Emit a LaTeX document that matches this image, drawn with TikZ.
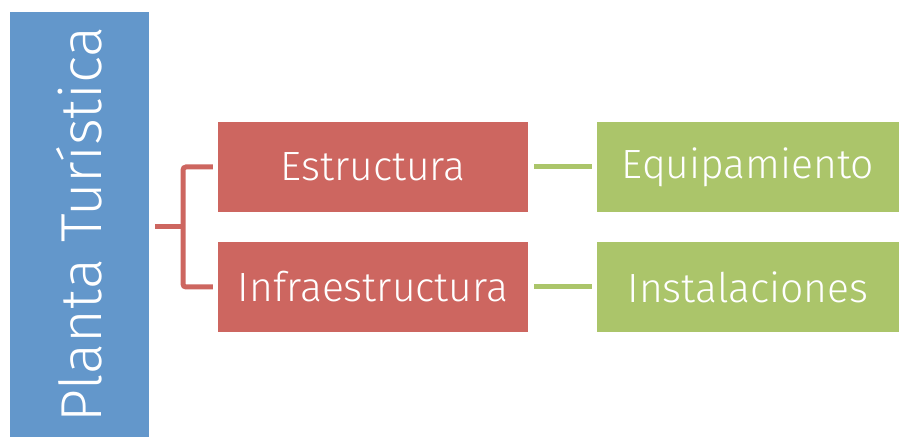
\documentclass[tikz,border=0pt]{standalone}
\usepackage{fontspec}
\setmainfont{Fira Sans Light}
\definecolor{cblue}{HTML}{6397CB}
\definecolor{cred}{HTML}{CD6660}
\definecolor{cgreen}{HTML}{ABC56A}
\begin{document}
\begin{tikzpicture}[x=1bp,y=-1bp,
  box/.style={inner sep=0pt,text=white,font=\fontsize{41}{48}\selectfont},
  redbox/.style={box,fill=cred,minimum width=310bp,minimum height=90bp},
  greenbox/.style={box,fill=cgreen,minimum width=302bp,minimum height=90bp},
  redline/.style={draw=cred,line width=5bp,rounded corners=3bp},
  greenline/.style={draw=cgreen,line width=5bp}]
\useasboundingbox (0,0) rectangle (899,437);
\node[box,fill=cblue,minimum width=425bp,minimum height=139bp,rotate=90,font=\fontsize{58}{66}\selectfont] (pt) at (79.5,224.5) {Planta Turística};
\node[redbox] (e) at (373,167) {Estructura};
\node[redbox] (i) at (373,287) {Infraestructura};
\node[greenbox] (eq) at (748,167) {Equipamiento};
\node[greenbox] (in) at (748,287) {Instalaciones};
\coordinate (b0) at (155,227);
\coordinate (b1) at (183,227);
\draw[redline] (b0) -- (b1);
\draw[redline] ([xshift=-5bp]e.west) -| (b1) |- ([xshift=-5bp]i.west);
\draw[greenline] ([xshift=6bp]e.east) -- ([xshift=-5bp]eq.west);
\draw[greenline] ([xshift=6bp]i.east) -- ([xshift=-5bp]in.west);
\end{tikzpicture}
\end{document}
